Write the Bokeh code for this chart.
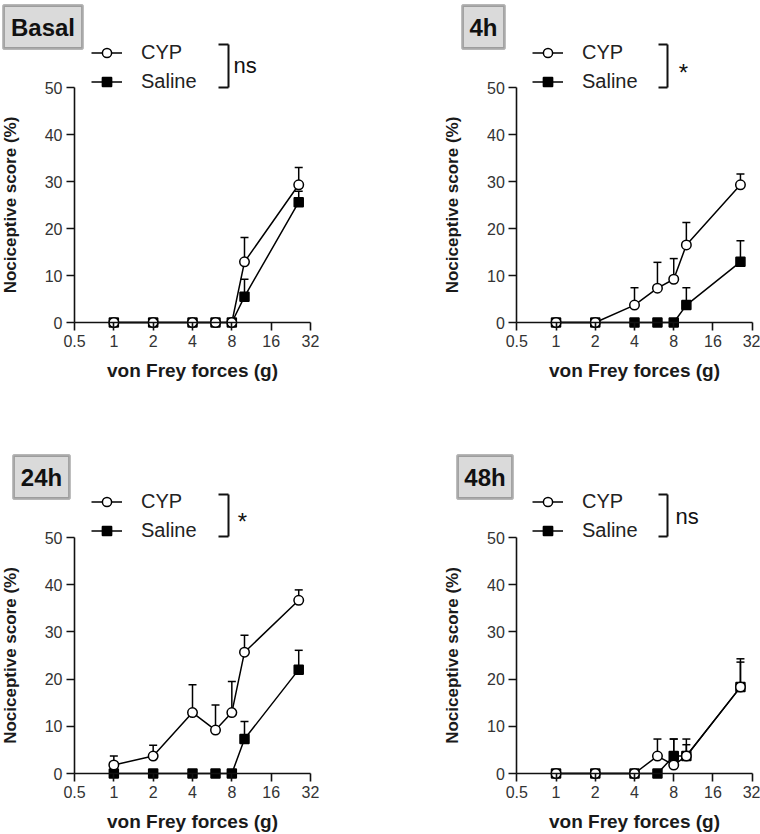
from bokeh.plotting import figure
from bokeh.models import (Range1d, FixedTicker, ColumnDataSource, Whisker, TeeHead,
                          Legend, LegendItem, Label, BoxAnnotation, Arrow)
from bokeh.layouts import gridplot
from bokeh.embed import file_html
from bokeh.resources import INLINE

# ---------------- data ----------------
forces = [1, 2, 4, 6, 8, 10, 26]
x_ticks = [0.5, 1, 2, 4, 8, 16, 32]
x_tick_labels = ["0.5", "1", "2", "4", "8", "16", "32"]
y_ticks = [0, 10, 20, 30, 40, 50]
y_tick_labels = ["0", "10", "20", "30", "40", "50"]
series_names = ["CYP", "Saline"]
panel_titles = ["Basal", "4h", "24h", "48h"]
significance = ["ns", "*", "*", "ns"]
x_title = "von Frey forces (g)"
y_title = "Nociceptive score (%)"

basal_cyp = [0, 0, 0, 0, 0, 12.9, 29.3]
basal_cyp_sem = [0, 0, 0, 0, 0, 5.2, 3.7]
basal_sal = [0, 0, 0, 0, 0, 5.5, 25.6]
basal_sal_sem = [0, 0, 0, 0, 0, 3.7, 2.3]

h4_cyp = [0, 0, 3.7, 7.3, 9.2, 16.5, 29.3]
h4_cyp_sem = [0, 0, 3.7, 5.5, 4.4, 4.8, 2.3]
h4_sal = [0, 0, 0, 0, 0, 3.7, 12.9]
h4_sal_sem = [0, 0, 0, 0, 0, 3.7, 4.5]

h24_cyp = [1.8, 3.7, 12.9, 9.2, 12.9, 25.7, 36.7]
h24_cyp_sem = [1.9, 2.3, 5.9, 5.3, 6.6, 3.6, 2.2]
h24_sal = [0, 0, 0, 0, 0, 7.3, 22.0]
h24_sal_sem = [0, 0, 0, 0, 0, 3.7, 4.1]

h48_cyp = [0, 0, 0, 3.7, 1.8, 3.7, 18.3]
h48_cyp_sem = [0, 0, 0, 3.6, 5.5, 2.4, 6.0]
h48_sal = [0, 0, 0, 0, 3.7, 3.7, 18.3]
h48_sal_sem = [0, 0, 0, 0, 3.6, 3.6, 5.3]

# ---------------- layout (page pixels) ----------------
FONT = "Liberation Sans"
W, H = 380, 417

panels = [
    dict(ox=0, oy=0, ax0=74, ax1=310, y0=322, y50=87),
    dict(ox=380, oy=0, ax0=516.3, ax1=751.7, y0=322, y50=87),
    dict(ox=0, oy=417, ax0=74, ax1=310, y0=773, y50=537),
    dict(ox=380, oy=417, ax0=516.3, ax1=751.7, y0=773, y50=537),
]
boxes = [(3, 5, 82, 48), (462, 5, 504, 48), (13, 455, 69, 498), (457, 455, 512, 498)]
legend_anchor = [(91, 52), (532, 52), (91, 501), (532, 501)]
brackets = [(218, 228, 44, 87), (658, 667, 44, 87), (218, 228, 494, 536), (658, 667, 494, 536)]
sig_pos = [(233, 65, "left"), (683, 72, "center"), (242, 521, "center"), (675, 516, "left")]


def make_panel(i, cyp, cyp_sem, sal, sal_sem):
    g = panels[i]
    ox, oy = g["ox"], g["oy"]
    k = (g["ax1"] - g["ax0"]) / 6.0
    xs = 0.5 * 2 ** (-(g["ax0"] - ox) / k)
    xe = 0.5 * 2 ** ((ox + W - g["ax0"]) / k)
    s = (g["y0"] - g["y50"]) / 50.0
    ys = -(oy + H - g["y0"]) / s
    ye = (g["y0"] - oy) / s

    p = figure(width=W, height=H, x_axis_type="log",
               x_range=Range1d(xs, xe), y_range=Range1d(ys, ye),
               toolbar_location=None, output_backend="svg",
               min_border=0, outline_line_color=None)
    p.grid.visible = False

    # axes
    p.xaxis.fixed_location = 0
    p.yaxis.fixed_location = 0.5
    p.xaxis.bounds = (0.5, 32)
    p.yaxis.bounds = (0, 50)
    p.xaxis.ticker = FixedTicker(ticks=x_ticks)
    p.yaxis.ticker = FixedTicker(ticks=y_ticks)
    p.xaxis.major_label_overrides = dict(zip(x_ticks, x_tick_labels))
    p.yaxis.major_label_overrides = dict(zip(y_ticks, y_tick_labels))
    p.xaxis.axis_label = x_title
    p.yaxis.axis_label = y_title
    for ax in (p.xaxis, p.yaxis):
        ax.axis_line_width = 1.6
        ax.axis_line_color = "#111111"
        ax.major_tick_line_width = 1.6
        ax.major_tick_line_color = "#111111"
        ax.major_tick_out = 8
        ax.major_tick_in = 0
        ax.minor_tick_line_color = None
        ax.major_label_text_font = FONT
        ax.major_label_text_font_size = "16px"
        ax.major_label_text_color = "#333333"
        ax.axis_label_text_font = FONT
        ax.axis_label_text_font_style = "bold"
        ax.axis_label_text_color = "#1a1a1a"
    p.xaxis.axis_label_text_font_size = "19px"
    p.yaxis.axis_label_text_font_size = "17px"
    p.xaxis.major_label_standoff = 4
    p.xaxis.axis_label_standoff = 10
    p.yaxis.major_label_standoff = 4
    p.yaxis.axis_label_standoff = 22

    src = ColumnDataSource(dict(x=forces, cyp=cyp, sal=sal))
    cyp_hi = [v + e for v, e in zip(cyp, cyp_sem)]
    sal_hi = [v + e for v, e in zip(sal, sal_sem)]
    cyp_err = ColumnDataSource(dict(
        x=[f for f, e in zip(forces, cyp_sem) if e > 0],
        lo=[v for v, e in zip(cyp, cyp_sem) if e > 0],
        hi=[h for h, e in zip(cyp_hi, cyp_sem) if e > 0]))
    sal_err = ColumnDataSource(dict(
        x=[f for f, e in zip(forces, sal_sem) if e > 0],
        lo=[v for v, e in zip(sal, sal_sem) if e > 0],
        hi=[h for h, e in zip(sal_hi, sal_sem) if e > 0]))

    sal_line = p.line("x", "sal", source=src, line_color="black", line_width=1.5)
    cyp_line = p.line("x", "cyp", source=src, line_color="black", line_width=1.5)
    for es in (sal_err, cyp_err):
        w = Whisker(base="x", lower="lo", upper="hi", source=es, dimension="height",
                    line_color="black", line_width=1.5, lower_head=None,
                    upper_head=TeeHead(size=8, line_color="black", line_width=1.5),
                    level="underlay")
        p.add_layout(w)
    sal_pts = p.scatter("x", "sal", source=src, marker="square", size=9,
                        fill_color="black", line_color="black", line_width=1.5)
    cyp_pts = p.scatter("x", "cyp", source=src, marker="circle", size=9.5,
                        fill_color="white", line_color="black", line_width=1.5)

    sx = lambda X: X - ox
    sy = lambda Y: oy + H - Y

    # legend
    lx, ly = legend_anchor[i]
    leg = Legend(items=[LegendItem(label=series_names[0], renderers=[cyp_line, cyp_pts]),
                        LegendItem(label=series_names[1], renderers=[sal_line, sal_pts])],
                 location=(sx(lx), sy(ly + 29 + 11.5)),
                 glyph_width=31, glyph_height=23, label_height=23, spacing=6,
                 padding=0, margin=0, label_standoff=19,
                 label_text_font=FONT, label_text_font_size="20px",
                 label_text_color="#222222",
                 background_fill_alpha=0, border_line_alpha=0)
    p.add_layout(leg)

    # title box
    bx0, by0, bx1, by1 = boxes[i]
    p.add_layout(BoxAnnotation(left=sx(bx0), right=sx(bx1), top=sy(by0), bottom=sy(by1),
                               left_units="screen", right_units="screen",
                               top_units="screen", bottom_units="screen",
                               fill_color="#dadada", fill_alpha=1,
                               line_color="#111111", line_width=2.8, level="annotation"))
    p.add_layout(Label(x=(sx(bx0) + sx(bx1)) / 2, y=(sy(by0) + sy(by1)) / 2,
                       x_units="screen", y_units="screen", text=panel_titles[i],
                       text_font=FONT, text_font_size="24px", text_font_style="bold",
                       text_align="center", text_baseline="middle", text_color="#111111"))

    # significance bracket
    ax0_, ax1_, ay0_, ay1_ = brackets[i]
    for (xa, ya, xb, yb) in [(ax1_, ay0_, ax1_, ay1_), (ax0_, ay0_, ax1_, ay0_), (ax0_, ay1_, ax1_, ay1_)]:
        p.add_layout(Arrow(end=None, x_start=sx(xa), y_start=sy(ya), x_end=sx(xb), y_end=sy(yb),
                           start_units="screen", end_units="screen",
                           line_color="#111111", line_width=2))
    tx, ty, al = sig_pos[i]
    p.add_layout(Label(x=sx(tx), y=sy(ty), x_units="screen", y_units="screen",
                       text=significance[i], text_font=FONT,
                       text_font_size="22px" if significance[i] == "ns" else "24px",
                       text_align=al, text_baseline="middle", text_color="#111111"))
    return p


p1 = make_panel(0, basal_cyp, basal_cyp_sem, basal_sal, basal_sal_sem)
p2 = make_panel(1, h4_cyp, h4_cyp_sem, h4_sal, h4_sal_sem)
p3 = make_panel(2, h24_cyp, h24_cyp_sem, h24_sal, h24_sal_sem)
p4 = make_panel(3, h48_cyp, h48_cyp_sem, h48_sal, h48_sal_sem)

grid = gridplot([[p1, p2], [p3, p4]], toolbar_location=None)

open("out.html", "w").write(file_html(grid, INLINE))
